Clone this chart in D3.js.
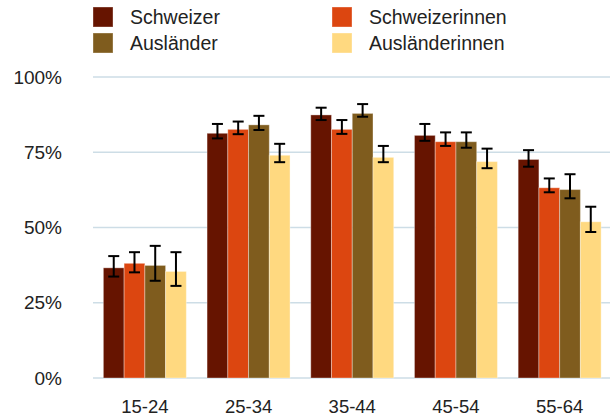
<!DOCTYPE html>
<html>
<head>
<meta charset="utf-8">
<script src="https://cdn.jsdelivr.net/npm/d3@7"></script>
<style>
  body { margin: 0; background: #fff; }
  svg { display: block; font-family: "Liberation Sans", Arial, sans-serif; }
</style>
</head>
<body>
<svg id="chart" width="616" height="419"></svg>
<script>
const categories = ["15-24", "25-34", "35-44", "45-54", "55-64"];
const seriesNames = ["Schweizer", "Schweizerinnen", "Ausländer", "Ausländerinnen"];
const seriesColors = ["#661400", "#dc4610", "#7f5c1e", "#ffd980"];
const schweizer      = [36.6, 81.3, 87.4, 80.6, 72.6];
const schweizerinnen = [38.1, 82.6, 82.6, 78.5, 63.2];
const auslaender     = [37.4, 84.1, 87.9, 78.5, 62.6];
const auslaenderinnen= [35.4, 74.0, 73.3, 71.9, 51.9];
const schweizerLow      = [33.7, 79.6, 85.7, 78.8, 70.2];
const schweizerHigh     = [40.5, 84.4, 89.8, 84.4, 75.7];
const schweizerinnenLow = [35.1, 81.0, 81.1, 77.1, 61.7];
const schweizerinnenHigh= [41.8, 85.2, 85.7, 81.6, 66.3];
const auslaenderLow     = [32.3, 82.4, 86.8, 76.5, 59.7];
const auslaenderHigh    = [43.9, 87.1, 91.0, 81.6, 67.7];
const auslaenderinnenLow = [30.6, 71.7, 71.7, 69.7, 48.5];
const auslaenderinnenHigh= [41.8, 77.8, 77.1, 76.2, 56.9];
const yTicks = [0, 25, 50, 75, 100];

(function () {
const values = [schweizer, schweizerinnen, auslaender, auslaenderinnen];
const lows = [schweizerLow, schweizerinnenLow, auslaenderLow, auslaenderinnenLow];
const highs = [schweizerHigh, schweizerinnenHigh, auslaenderHigh, auslaenderinnenHigh];

const svg = d3.select("#chart");
const pLeft = 93, pRight = 611.5, pTop = 77, pBottom = 378;

const x0 = d3.scaleBand().domain(categories).range([pLeft, pRight]).paddingInner(0.2).paddingOuter(0.1);
const x1 = d3.scaleBand().domain(seriesNames).range([0, x0.bandwidth()]);
const y = d3.scaleLinear().domain([0, 100]).range([pBottom, pTop]);

// gridlines
svg.append("g").selectAll("line").data(yTicks).join("line")
  .attr("x1", pLeft).attr("x2", 610)
  .attr("y1", d => y(d)).attr("y2", d => y(d))
  .attr("stroke", "#cddde6").attr("stroke-width", 1.5);

// y labels
const yAxis = d3.axisLeft(y).tickValues(yTicks).tickFormat(d => d + "%").tickSize(0).tickPadding(0);
const yg = svg.append("g").attr("transform", `translate(62,0)`).call(yAxis);
yg.select(".domain").remove();
yg.selectAll("text").attr("font-size", 19).attr("fill", "#222").attr("font-family", "Liberation Sans, Arial, sans-serif");

// x labels
const xAxis = d3.axisBottom(x0).tickSize(0).tickPadding(0);
const xg = svg.append("g").attr("transform", `translate(0,${pBottom})`).call(xAxis);
xg.select(".domain").remove();
xg.selectAll("text").attr("font-size", 18.5).attr("fill", "#222").attr("dy", null).attr("y", 35)
  .attr("font-family", "Liberation Sans, Arial, sans-serif");

// bars
const groups = svg.append("g").selectAll("g").data(categories).join("g")
  .attr("transform", d => `translate(${x0(d)},0)`);

groups.selectAll("rect").data((c, ci) => seriesNames.map((s, si) => ({s, si, v: values[si][ci]})))
  .join("rect")
  .attr("x", d => x1(d.s))
  .attr("y", d => y(d.v))
  .attr("width", x1.bandwidth())
  .attr("height", d => y(0) - y(d.v))
  .attr("fill", d => seriesColors[d.si])
  .attr("stroke", "rgba(255,255,255,0.35)")
  .attr("stroke-width", 1);

// error bars
const eb = groups.selectAll("g.err").data((c, ci) => seriesNames.map((s, si) => ({s, si, lo: lows[si][ci], hi: highs[si][ci]})))
  .join("g").attr("class", "err")
  .attr("transform", d => `translate(${x1(d.s) + x1.bandwidth() / 2},0)`);
eb.append("line").attr("x1", 0).attr("x2", 0).attr("y1", d => y(d.lo)).attr("y2", d => y(d.hi))
  .attr("stroke", "#000").attr("stroke-width", 2);
eb.append("line").attr("x1", -5.5).attr("x2", 5.5).attr("y1", d => y(d.lo)).attr("y2", d => y(d.lo))
  .attr("stroke", "#000").attr("stroke-width", 2);
eb.append("line").attr("x1", -5.5).attr("x2", 5.5).attr("y1", d => y(d.hi)).attr("y2", d => y(d.hi))
  .attr("stroke", "#000").attr("stroke-width", 2);

// legend
const legendX = [93, 332];
const legendY = [7, 33];
const lg = svg.append("g").selectAll("g").data(seriesNames).join("g")
  .attr("transform", (d, i) => `translate(${legendX[i % 2]},${legendY[Math.floor(i / 2)]})`);
lg.append("rect").attr("width", 20).attr("height", 20).attr("fill", (d, i) => seriesColors[i])
  .attr("stroke", "rgba(255,255,255,0.35)");
lg.append("text").attr("x", 37).attr("y", 16.5).attr("font-size", 19.5).attr("fill", "#222")
  .text(d => d);
})();
</script>
</body>
</html>
